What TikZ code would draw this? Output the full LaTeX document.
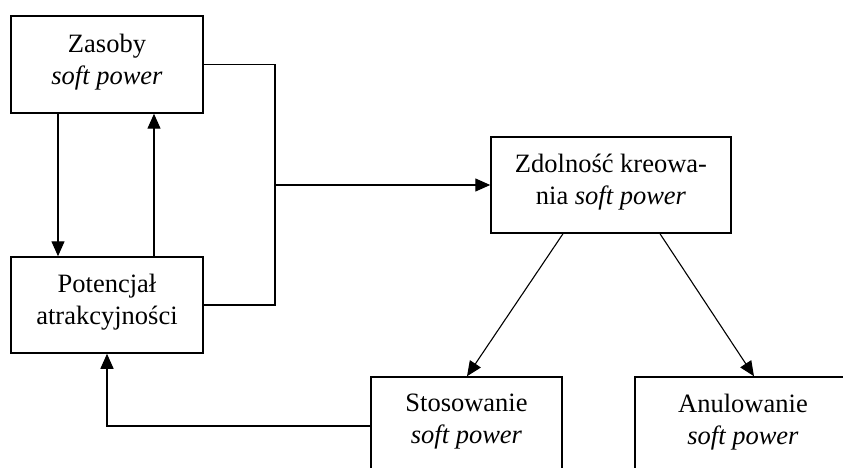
\documentclass[tikz,border=0pt]{standalone}
\usepackage{fontspec}
\setmainfont{Liberation Serif}
\usetikzlibrary{arrows.meta,calc}
\tikzset{
  boxnode/.style={draw, line width=1.5pt, rectangle, inner sep=0pt, align=center,
    text depth=11pt, font=\fontsize{26.5}{32}\selectfont},
  conn/.style={line width=1.4pt},
  arr/.style={line width=1.4pt, -{Triangle[length=15pt,width=13pt]}},
  darr/.style={line width=1.1pt, -{Triangle[length=15pt,width=13pt]}}
}
\begin{document}
\begin{tikzpicture}[x=1pt,y=-1pt]
\useasboundingbox (0,0) rectangle (843,468);
\clip (0,0) rectangle (843,468);
\node[boxnode, minimum width=192pt, minimum height=97pt] (zas) at (107,64.5) {Zasoby\\\textit{soft power}};
\node[boxnode, minimum width=192pt, minimum height=96pt] (pot) at (107,305) {Potencjał\\atrakcyjności};
\node[boxnode, minimum width=240pt, minimum height=96pt] (zdo) at (611,185) {Zdolność kreowa-\\nia \textit{soft power}};
\node[boxnode, minimum width=191pt, minimum height=95pt] (sto) at (466.5,424.5) {Stosowanie\\\textit{soft power}};
\node[boxnode, minimum width=216pt, minimum height=95pt] (anu) at (743,424.5) {Anulowanie\\\textit{soft power}};
\coordinate (jx) at (275,185);
\draw[conn] (zas.east) -| (jx) |- (pot.east);
\draw[arr] (jx) -- (zdo.west);
\draw[arr] ([xshift=-49pt]zas.south) -- ([xshift=-49pt]pot.north);
\draw[arr] ([xshift=47pt]pot.north) -- ([xshift=47pt]zas.south);
\draw[darr] ([xshift=-48pt]zdo.south) -- ([xshift=0.5pt]sto.north);
\draw[darr] ([xshift=49pt]zdo.south) -- ([xshift=11pt]anu.north);
\draw[arr] ([yshift=-1.5pt]sto.west) -| (pot.south);
\end{tikzpicture}
\end{document}
